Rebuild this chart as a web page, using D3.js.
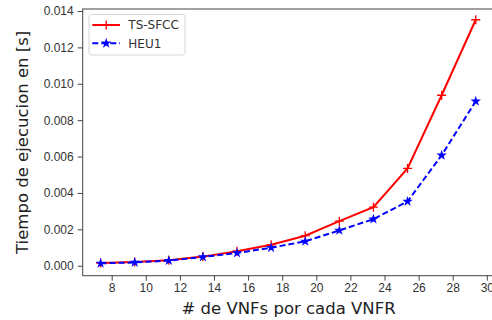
<!DOCTYPE html>
<html>
<head>
<meta charset="utf-8">
<script src="https://cdn.jsdelivr.net/npm/d3@7"></script>
<style>
  body { margin: 0; background: #fff; }
  svg { font-family: "DejaVu Sans", sans-serif; }
  .axis text { font-size: 12px; fill: #333; }
  .axis line, .axis path { stroke: #444; }
  .axisLabel { font-size: 16.5px; fill: #222; }
</style>
</head>
<body>
<script>
// data
const vnfs = [7.35, 9.35, 11.35, 13.35, 15.35, 17.35, 19.35, 21.35, 23.35, 25.35, 27.35, 29.35];
const tsSfcc = [0.00015, 0.0002, 0.0003, 0.0005, 0.0008, 0.00115, 0.00165, 0.00245, 0.00322, 0.00535, 0.00937, 0.01352];
const heu1 = [0.00013, 0.00018, 0.00028, 0.00048, 0.0007, 0.00099, 0.00134, 0.00194, 0.00256, 0.00353, 0.00607, 0.00904];
const xTicks = [8, 10, 12, 14, 16, 18, 20, 22, 24, 26, 28, 30];
const yTicks = [0, 0.002, 0.004, 0.006, 0.008, 0.010, 0.012, 0.014];

const w = 492, h = 320;
const plot = {left: 82.7, right: 494.5, top: 9, bottom: 275.7};

const svg = d3.select("body").append("svg")
    .attr("width", w)
    .attr("height", h);

let x = d3.scaleLinear()
    .domain([6.3, 30.45])
    .range([plot.left, plot.right]);

let y = d3.scaleLinear()
    .domain([-0.000549, 0.01411])
    .range([plot.bottom, plot.top]);

// spines
svg.append("rect")
    .attr("x", plot.left)
    .attr("y", plot.top)
    .attr("width", plot.right - plot.left)
    .attr("height", plot.bottom - plot.top)
    .attr("fill", "none")
    .attr("stroke", "#444")
    .attr("stroke-width", 1);

svg.append("g")
    .attr("class", "axis")
    .attr("transform", `translate(0,${plot.bottom})`)
    .call(d3.axisBottom(x).tickValues(xTicks).tickSize(5).tickSizeOuter(0).tickPadding(2.5))
    .call(g => g.select(".domain").remove());

svg.append("g")
    .attr("class", "axis")
    .attr("transform", `translate(${plot.left},0)`)
    .call(d3.axisLeft(y).tickValues(yTicks).tickFormat(d3.format(".3f")).tickSize(5).tickSizeOuter(0).tickPadding(4))
    .call(g => g.select(".domain").remove());

const pts = (vals) => vnfs.map((v, i) => ({x: v, y: vals[i]}));

let line = d3.line()
    .x(d => x(d.x))
    .y(d => y(d.y));

const plusPath = "M-4.5,0H4.5M0,-4.5V4.5";
const star = d3.symbol().type(d3.symbolStar).size(34)();

// TS-SFCC
svg.append("path")
    .datum(pts(tsSfcc))
    .attr("d", line)
    .attr("fill", "none")
    .attr("stroke", "#ff0000")
    .attr("stroke-width", 2);

svg.append("g")
    .selectAll("path")
    .data(pts(tsSfcc))
    .enter().append("path")
    .attr("transform", d => `translate(${x(d.x)},${y(d.y)})`)
    .attr("d", plusPath)
    .attr("stroke", "#ff0000")
    .attr("stroke-width", 1.3);

// HEU1
svg.append("path")
    .datum(pts(heu1))
    .attr("d", line)
    .attr("fill", "none")
    .attr("stroke", "#0000ff")
    .attr("stroke-width", 2)
    .attr("stroke-dasharray", "6,3");

svg.append("g")
    .selectAll("path")
    .data(pts(heu1))
    .enter().append("path")
    .attr("transform", d => `translate(${x(d.x)},${y(d.y)})`)
    .attr("d", star)
    .attr("fill", "#0000ff");

// legend
const legend = svg.append("g");
legend.append("rect")
    .attr("x", 89)
    .attr("y", 14.5)
    .attr("width", 96)
    .attr("height", 40.5)
    .attr("rx", 2.5)
    .attr("fill", "#fff")
    .attr("fill-opacity", 0.8)
    .attr("stroke", "#d6d6d6");

legend.append("line")
    .attr("x1", 92.3).attr("x2", 120).attr("y1", 25).attr("y2", 25)
    .attr("stroke", "#ff0000").attr("stroke-width", 2);
legend.append("path")
    .attr("transform", "translate(106.2,25)")
    .attr("d", plusPath)
    .attr("stroke", "#ff0000").attr("stroke-width", 1.3);
legend.append("text")
    .attr("x", 128.3).attr("y", 29.3)
    .attr("font-size", 12).attr("fill", "#333")
    .text("TS-SFCC");

legend.append("line")
    .attr("x1", 92.3).attr("x2", 120).attr("y1", 43.3).attr("y2", 43.3)
    .attr("stroke", "#0000ff").attr("stroke-width", 2)
    .attr("stroke-dasharray", "6,3");
legend.append("path")
    .attr("transform", "translate(106.2,43.3)")
    .attr("d", star)
    .attr("fill", "#0000ff");
legend.append("text")
    .attr("x", 128.3).attr("y", 47.6)
    .attr("font-size", 12).attr("fill", "#333")
    .text("HEU1");

// axis titles
svg.append("text")
    .attr("class", "axisLabel")
    .attr("x", (plot.left + plot.right) / 2)
    .attr("y", 314)
    .attr("text-anchor", "middle")
    .text("# de VNFs por cada VNFR");

svg.append("text")
    .attr("class", "axisLabel")
    .attr("transform", `translate(28,${(plot.top + plot.bottom) / 2}) rotate(-90)`)
    .attr("text-anchor", "middle")
    .text("Tiempo de ejecucion en [s]");
</script>
</body>
</html>
